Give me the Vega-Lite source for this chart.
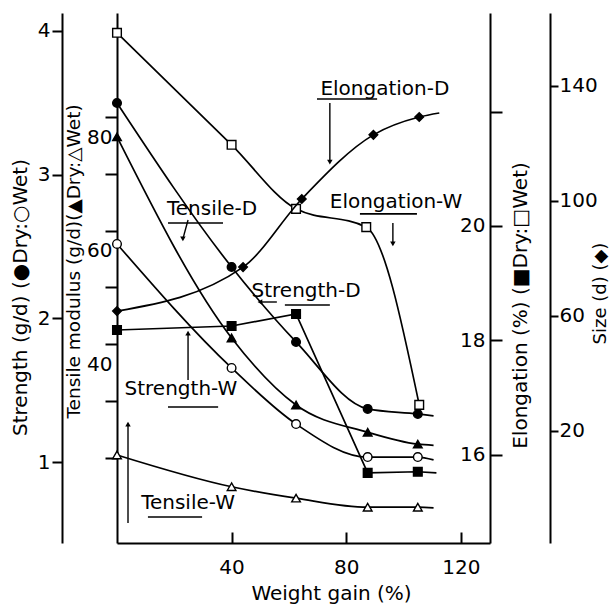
{
  "$schema": "https://vega.github.io/schema/vega-lite/v6.json",
  "width": 373,
  "height": 530,
  "autosize": {"type": "none"},
  "padding": {"left": 117, "top": 13, "right": 121, "bottom": 64},
  "background": "white",
  "config": {
    "view": {"stroke": null},
    "font": "DejaVu Sans",
    "axis": {
      "domainColor": "black", "domainWidth": 2, "tickColor": "black", "tickWidth": 2,
      "labelColor": "black", "labelFont": "DejaVu Sans", "labelFontSize": 20,
      "titleFont": "DejaVu Sans", "titleFontSize": 18, "titleFontWeight": "normal", "titleColor": "black",
      "grid": false, "labelOverlap": false, "labelFlush": false
    }
  },
  "datasets": {
    "curves": [
      {"series": "Strength-D", "x": 0, "v": 3.499, "pt": true},
      {"series": "Strength-D", "x": 40, "v": 2.358, "pt": true},
      {"series": "Strength-D", "x": 62.5, "v": 1.836, "pt": true},
      {"series": "Strength-D", "x": 87.5, "v": 1.370, "pt": true},
      {"series": "Strength-D", "x": 105, "v": 1.335, "pt": true},
      {"series": "Strength-D", "x": 110.5, "v": 1.321, "pt": false},
      {"series": "Strength-W", "x": 0, "v": 2.518, "pt": true},
      {"series": "Strength-W", "x": 40, "v": 1.655, "pt": true},
      {"series": "Strength-W", "x": 62.5, "v": 1.265, "pt": true},
      {"series": "Strength-W", "x": 87.5, "v": 1.035, "pt": true},
      {"series": "Strength-W", "x": 105, "v": 1.035, "pt": true},
      {"series": "Strength-W", "x": 110.5, "v": 1.015, "pt": false},
      {"series": "Tensile-D", "x": 0, "v": 76.5, "pt": true},
      {"series": "Tensile-D", "x": 40, "v": 41.1, "pt": true},
      {"series": "Tensile-D", "x": 62.5, "v": 29.3, "pt": true},
      {"series": "Tensile-D", "x": 87.5, "v": 24.5, "pt": true},
      {"series": "Tensile-D", "x": 105, "v": 22.4, "pt": true},
      {"series": "Tensile-D", "x": 110.5, "v": 22.2, "pt": false},
      {"series": "Tensile-W", "x": 0, "v": 20.5, "pt": true},
      {"series": "Tensile-W", "x": 40, "v": 14.9, "pt": true},
      {"series": "Tensile-W", "x": 62.5, "v": 12.9, "pt": true},
      {"series": "Tensile-W", "x": 87.5, "v": 11.3, "pt": true},
      {"series": "Tensile-W", "x": 105, "v": 11.3, "pt": true},
      {"series": "Tensile-W", "x": 110.5, "v": 11.2, "pt": false},
      {"series": "Elongation-D", "x": 0, "v": 18.18, "pt": true},
      {"series": "Elongation-D", "x": 40, "v": 18.25, "pt": true},
      {"series": "Elongation-D", "x": 62.5, "v": 18.46, "pt": true},
      {"series": "Elongation-D", "x": 87.5, "v": 15.68, "pt": true},
      {"series": "Elongation-D", "x": 105, "v": 15.70, "pt": true},
      {"series": "Elongation-D", "x": 111.5, "v": 15.68, "pt": false},
      {"series": "Elongation-W", "x": 0, "v": 23.38, "pt": true},
      {"series": "Elongation-W", "x": 40, "v": 21.42, "pt": true},
      {"series": "Elongation-W", "x": 62.5, "v": 20.30, "pt": true},
      {"series": "Elongation-W", "x": 87, "v": 19.98, "pt": true},
      {"series": "Elongation-W", "x": 105.5, "v": 16.87, "pt": true},
      {"series": "Size", "x": 0, "v": 61.7, "pt": true},
      {"series": "Size", "x": 44, "v": 77.0, "pt": true},
      {"series": "Size", "x": 64.5, "v": 100.7, "pt": true},
      {"series": "Size", "x": 89.5, "v": 123.0, "pt": true},
      {"series": "Size", "x": 105.5, "v": 129.2, "pt": true},
      {"series": "Size", "x": 112.5, "v": 130.6, "pt": false}
    ],
    "notes": [
      {"label": "Elongation-D", "x": 93.5, "v": 3.596},
      {"label": "Elongation-W", "x": 97.4, "v": 2.810},
      {"label": "Tensile-D", "x": 33.2, "v": 2.761},
      {"label": "Strength-D", "x": 66.0, "v": 2.191},
      {"label": "Strength-W", "x": 22.3, "v": 1.509},
      {"label": "Tensile-W", "x": 24.8, "v": 0.715}
    ],
    "underlines": [
      {"x": 69.8, "x2": 90.8, "v": 3.527},
      {"x": 84.8, "x2": 104.7, "v": 2.727},
      {"x": 17.8, "x2": 37.0, "v": 2.664},
      {"x": 58.6, "x2": 74.3, "v": 2.093},
      {"x": 17.8, "x2": 35.3, "v": 1.383},
      {"x": 10.8, "x2": 29.7, "v": 0.618}
    ],
    "arrows": [
      {"x": 74.3, "v": 3.088, "x2": 74.3, "v2": 3.499, "dir": "down"},
      {"x": 96.3, "v": 2.518, "x2": 96.3, "v2": 2.664, "dir": "down"},
      {"x": 23.0, "v": 2.553, "x2": 24.8, "v2": 2.685, "dir": "down"},
      {"x": 49.9, "v": 2.114, "x2": 55.8, "v2": 2.114, "dir": "left"},
      {"x": 24.8, "v": 1.897, "x2": 24.8, "v2": 1.571, "dir": "up"},
      {"x": 3.84, "v": 1.265, "x2": 3.84, "v2": 0.576, "dir": "up"}
    ]
  },
  "encoding": {
    "x": {
      "field": "x", "type": "quantitative",
      "scale": {"domain": [0, 130.2], "nice": false, "zero": false},
      "axis": {"values": [40, 80, 120], "tickSize": -11, "labelPadding": 25, "title": "Weight gain (%)", "titleFontSize": 20, "titleX": 214, "titleY": 50, "titleBaseline": "middle"}
    }
  },
  "layer": [
    {
      "encoding": {
        "y": {
          "field": "v", "type": "quantitative",
          "scale": {"domain": [0.437, 4.125], "nice": false, "zero": false},
          "axis": {"orient": "left", "offset": 55, "values": [1, 2, 3, 4], "tickSize": 10, "labelPadding": 2, "title": "Strength (g/d) (●Dry:○Wet)", "titleFontSize": 20, "titleAngle": 270, "titleX": -42, "titleY": 284, "titleBaseline": "middle", "titleAlign": "center"}
        }
      },
      "layer": [
        {"data": {"name": "curves"}, "transform": [{"filter": {"field": "series", "oneOf": ["Strength-D", "Strength-W"]}}],
         "mark": {"type": "line", "interpolate": "monotone", "color": "black", "strokeWidth": 1.7},
         "encoding": {"detail": {"field": "series"}}},
        {"data": {"name": "curves"}, "transform": [{"filter": {"field": "series", "oneOf": ["Strength-D", "Strength-W"]}}, {"filter": "datum.pt"}],
         "mark": {"type": "point", "filled": true, "stroke": "black", "strokeWidth": 1.4, "opacity": 1},
         "encoding": {
           "shape": {"field": "series", "scale": {"domain": ["Strength-D", "Strength-W", "Tensile-D", "Tensile-W", "Elongation-D", "Elongation-W", "Size"], "range": ["circle", "circle", "triangle-up", "triangle-up", "square", "square", "diamond"]}, "legend": null},
           "fill": {"field": "series", "scale": {"domain": ["Strength-D", "Strength-W", "Tensile-D", "Tensile-W", "Elongation-D", "Elongation-W", "Size"], "range": ["black", "white", "black", "white", "black", "white", "black"]}, "legend": null},
           "size": {"field": "series", "scale": {"domain": ["Strength-D", "Strength-W", "Tensile-D", "Tensile-W", "Elongation-D", "Elongation-W", "Size"], "range": [75, 75, 45, 45, 50, 50, 60]}, "legend": null}
         }},
        {"data": {"name": "notes"}, "mark": {"type": "text", "fontSize": 20, "font": "DejaVu Sans", "color": "black", "align": "center", "baseline": "middle"},
         "encoding": {"text": {"field": "label"}}},
        {"data": {"name": "underlines"}, "mark": {"type": "rule", "color": "black", "strokeWidth": 1.6},
         "encoding": {"x2": {"field": "x2"}}},
        {"data": {"name": "arrows"}, "mark": {"type": "rule", "color": "black", "strokeWidth": 1.4},
         "encoding": {"x2": {"field": "x2"}, "y2": {"field": "v2"}}},
        {"data": {"name": "arrows"}, "transform": [{"filter": "datum.dir === 'down'"}],
         "mark": {"type": "point", "shape": "triangle-down", "filled": true, "color": "black", "size": 30, "opacity": 1}},
        {"data": {"name": "arrows"}, "transform": [{"filter": "datum.dir === 'up'"}],
         "mark": {"type": "point", "shape": "triangle-up", "filled": true, "color": "black", "size": 30, "opacity": 1}},
        {"data": {"name": "arrows"}, "transform": [{"filter": "datum.dir === 'left'"}],
         "mark": {"type": "point", "shape": "triangle-left", "filled": true, "color": "black", "size": 30, "opacity": 1}}
      ]
    },
    {
      "encoding": {
        "y": {
          "field": "v", "type": "quantitative",
          "scale": {"domain": [5.0, 98.31], "nice": false, "zero": false},
          "axis": {"orient": "left", "offset": 0, "values": [20, 30, 40, 50, 60, 70, 80], "labelExpr": "datum.value == 40 || datum.value == 60 || datum.value == 80 ? datum.label : ''", "tickSize": 12, "labelPadding": -7, "labelOffset": 20, "title": "Tensile modulus (g/d)(▲Dry:△Wet)", "titleFontSize": 18.5, "titleAngle": 270, "titleX": -44, "titleY": 248, "titleBaseline": "middle", "titleAlign": "center"}
        }
      },
      "layer": [
        {"data": {"name": "curves"}, "transform": [{"filter": {"field": "series", "oneOf": ["Tensile-D", "Tensile-W"]}}],
         "mark": {"type": "line", "interpolate": "monotone", "color": "black", "strokeWidth": 1.7},
         "encoding": {"detail": {"field": "series"}}},
        {"data": {"name": "curves"}, "transform": [{"filter": {"field": "series", "oneOf": ["Tensile-D", "Tensile-W"]}}, {"filter": "datum.pt"}],
         "mark": {"type": "point", "filled": true, "stroke": "black", "strokeWidth": 1.4, "opacity": 1},
         "encoding": {
           "shape": {"field": "series", "scale": {"domain": ["Strength-D", "Strength-W", "Tensile-D", "Tensile-W", "Elongation-D", "Elongation-W", "Size"], "range": ["circle", "circle", "triangle-up", "triangle-up", "square", "square", "diamond"]}, "legend": null},
           "fill": {"field": "series", "scale": {"domain": ["Strength-D", "Strength-W", "Tensile-D", "Tensile-W", "Elongation-D", "Elongation-W", "Size"], "range": ["black", "white", "black", "white", "black", "white", "black"]}, "legend": null},
           "size": {"field": "series", "scale": {"domain": ["Strength-D", "Strength-W", "Tensile-D", "Tensile-W", "Elongation-D", "Elongation-W", "Size"], "range": [75, 75, 45, 45, 50, 50, 60]}, "legend": null}
         }}
      ]
    },
    {
      "encoding": {
        "y": {
          "field": "v", "type": "quantitative",
          "scale": {"domain": [14.453, 23.727], "nice": false, "zero": false},
          "axis": {"orient": "right", "offset": 0, "values": [16, 18, 20, 22], "labelExpr": "datum.value == 22 ? '' : datum.label", "tickSize": 12, "labelPadding": -17, "labelAlign": "right", "title": "Elongation (%) (■Dry:□Wet)", "titleFontSize": 20, "titleAngle": 270, "titleX": 30, "titleY": 292, "titleBaseline": "middle", "titleAlign": "center"}
        }
      },
      "layer": [
        {"data": {"name": "curves"}, "transform": [{"filter": {"field": "series", "equal": "Elongation-D"}}],
         "mark": {"type": "line", "interpolate": "linear", "color": "black", "strokeWidth": 1.7}},
        {"data": {"name": "curves"}, "transform": [{"filter": {"field": "series", "equal": "Elongation-W"}}],
         "mark": {"type": "line", "interpolate": "monotone", "color": "black", "strokeWidth": 1.7}},
        {"data": {"name": "curves"}, "transform": [{"filter": {"field": "series", "oneOf": ["Elongation-D", "Elongation-W"]}}, {"filter": "datum.pt"}],
         "mark": {"type": "point", "filled": true, "stroke": "black", "strokeWidth": 1.4, "opacity": 1},
         "encoding": {
           "shape": {"field": "series", "scale": {"domain": ["Strength-D", "Strength-W", "Tensile-D", "Tensile-W", "Elongation-D", "Elongation-W", "Size"], "range": ["circle", "circle", "triangle-up", "triangle-up", "square", "square", "diamond"]}, "legend": null},
           "fill": {"field": "series", "scale": {"domain": ["Strength-D", "Strength-W", "Tensile-D", "Tensile-W", "Elongation-D", "Elongation-W", "Size"], "range": ["black", "white", "black", "white", "black", "white", "black"]}, "legend": null},
           "size": {"field": "series", "scale": {"domain": ["Strength-D", "Strength-W", "Tensile-D", "Tensile-W", "Elongation-D", "Elongation-W", "Size"], "range": [75, 75, 45, 45, 50, 50, 60]}, "legend": null}
         }}
      ]
    },
    {
      "encoding": {
        "y": {
          "field": "v", "type": "quantitative",
          "scale": {"domain": [-18.96, 165.39], "nice": false, "zero": false},
          "axis": {"orient": "right", "offset": 60, "values": [20, 60, 100, 140], "tickSize": 8, "labelPadding": 1, "title": "Size (d) (◆)", "titleAngle": 270, "titleX": 50, "titleY": 280, "titleBaseline": "middle", "titleAlign": "center"}
        }
      },
      "layer": [
        {"data": {"name": "curves"}, "transform": [{"filter": {"field": "series", "equal": "Size"}}],
         "mark": {"type": "line", "interpolate": "monotone", "color": "black", "strokeWidth": 1.7}},
        {"data": {"name": "curves"}, "transform": [{"filter": {"field": "series", "equal": "Size"}}, {"filter": "datum.pt"}],
         "mark": {"type": "point", "filled": true, "stroke": "black", "strokeWidth": 1.4, "opacity": 1},
         "encoding": {
           "shape": {"field": "series", "scale": {"domain": ["Strength-D", "Strength-W", "Tensile-D", "Tensile-W", "Elongation-D", "Elongation-W", "Size"], "range": ["circle", "circle", "triangle-up", "triangle-up", "square", "square", "diamond"]}, "legend": null},
           "fill": {"field": "series", "scale": {"domain": ["Strength-D", "Strength-W", "Tensile-D", "Tensile-W", "Elongation-D", "Elongation-W", "Size"], "range": ["black", "white", "black", "white", "black", "white", "black"]}, "legend": null},
           "size": {"field": "series", "scale": {"domain": ["Strength-D", "Strength-W", "Tensile-D", "Tensile-W", "Elongation-D", "Elongation-W", "Size"], "range": [75, 75, 45, 45, 50, 50, 60]}, "legend": null}
         }}
      ]
    }
  ],
  "resolve": {"scale": {"y": "independent"}}
}
